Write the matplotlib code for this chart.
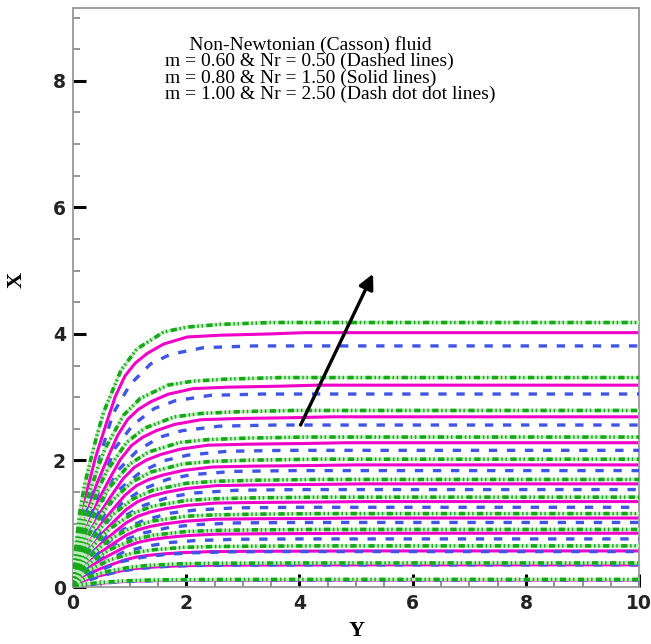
import matplotlib
matplotlib.use('Agg')
import matplotlib.pyplot as plt
import matplotlib.transforms as mtransforms
import numpy as np

# plateau levels of the curves (read at Y = 10), top to bottom
dashed_levels = [3.81, 3.05, 2.56, 2.16, 1.84, 1.54, 1.26, 1.02, 0.76, 0.56, 0.35, 0.11]
solid_levels = [4.02, 3.19, 2.69, 2.28, 1.93, 1.63, 1.35, 1.09, 0.85, 0.57, 0.35, 0.11]
dashdot_levels = [4.18, 3.31, 2.79, 2.37, 2.02, 1.70, 1.42, 1.16, 0.91, 0.65, 0.38, 0.12]
# how far out along Y each group of curves bends over (1 = top group), estimated
group_stretch = [1.0, 1.05, 1.12, 1.18, 1.22, 1.25, 1.25, 1.25, 1.25, 1.22, 1.18, 1.1]

# shape of the curves (fraction of the plateau reached at a given Y)
dashed_y = [0, 0.04, 0.1, 0.2, 0.33, 0.5, 0.71, 1.01, 1.37, 1.72, 2.31, 3.2, 10]
dashed_frac = [0, 0.07, 0.15, 0.27, 0.40, 0.56, 0.72, 0.84, 0.925, 0.965, 0.993, 1.0, 1.0]
solid_y = [0, 0.03, 0.08, 0.15, 0.25, 0.4, 0.6, 0.75, 0.92, 1.1, 1.31, 1.6, 2.02, 2.61, 3.49, 4.1, 10]
solid_frac = [0, 0.08, 0.17, 0.27, 0.38, 0.51, 0.65, 0.75, 0.83, 0.88, 0.918, 0.955, 0.983,
              0.99, 0.995, 1.0, 1.0]
dashdot_y = [0, 0.02, 0.06, 0.12, 0.2, 0.3, 0.42, 0.54, 0.85, 1.13, 1.6, 2.02, 2.61, 3.49, 10]
dashdot_frac = [0, 0.08, 0.17, 0.28, 0.38, 0.47, 0.57, 0.66, 0.82, 0.90, 0.964, 0.983,
                0.993, 1.0, 1.0]

legend_lines = ['     Non-Newtonian (Casson) fluid',
                'm = 0.60 & Nr = 0.50 (Dashed lines)',
                'm = 0.80 & Nr = 1.50 (Solid lines)',
                'm = 1.00 & Nr = 2.50 (Dash dot dot lines)']

arrow_start = (4.02, 2.56)
arrow_end = (5.3, 4.95)

plt.rcParams['lines.scale_dashes'] = False

fig = plt.figure(figsize=(6.51, 6.44), dpi=100)
ax = fig.add_axes([0.112, 0.0885, 0.87, 0.899])

for k in range(len(solid_levels)):
    s = group_stretch[k]
    # solid lines
    ax.plot(np.array(solid_y) * s, np.array(solid_frac) * solid_levels[k],
            color='#f000c8', lw=2.2, solid_joinstyle='round', zorder=2)
    # dashed lines
    ax.plot(np.array(dashed_y) * s, np.array(dashed_frac) * dashed_levels[k],
            color='#3f55e6', lw=2.4, dashes=(6, 7), zorder=3)
    # dash dot dot lines (pale green trace under dark green dashes)
    yy = np.array(dashdot_y) * s
    xx = np.array(dashdot_frac) * dashdot_levels[k]
    ax.plot(yy, xx, color='#b8ecb8', lw=2.4, zorder=3)
    ax.plot(yy, xx, color='#16a816', lw=2.6, dashes=(4.5, 2, 1, 2, 1, 2.5), zorder=4)

ax.annotate('', xy=arrow_end, xytext=arrow_start,
            arrowprops=dict(arrowstyle='-|>,head_length=0.9,head_width=0.45',
                            color='black', lw=2.4, shrinkA=0, shrinkB=0),
            zorder=6)

ax.text(0.163, 0.952, '\n'.join(legend_lines), transform=ax.transAxes,
        ha='left', va='top', fontsize=14, family='Liberation Serif',
        linespacing=0.93, zorder=7)

ax.set_xlim(0, 10)
ax.set_ylim(0, 9.15)
ax.set_xticks([0, 2, 4, 6, 8, 10])
ax.set_yticks([0, 2, 4, 6, 8])
ax.set_xticks(np.arange(0, 10.01, 0.5), minor=True)
ax.set_yticks(np.arange(0, 9.01, 0.5), minor=True)
ax.tick_params(which='major', direction='in', length=9.5, width=2.2, color='black',
               labelsize=13.5, pad=5)
ax.tick_params(which='minor', direction='in', length=5, width=1.1, color='#777777')
for lab in ax.get_xticklabels() + ax.get_yticklabels():
    lab.set_fontweight('bold')
    lab.set_color('#222222')
# keep the "10" inside the picture, as in the reference
last = ax.get_xticklabels()[-1]
last.set_horizontalalignment('right')
last.set_transform(last.get_transform() +
                   mtransforms.ScaledTranslation(9 / 72, 0, fig.dpi_scale_trans))
for sp in ax.spines.values():
    sp.set_color('#999999')
    sp.set_linewidth(1.3)

ax.set_xlabel('Y', family='Liberation Serif', fontweight='bold', fontsize=16, labelpad=6)
ax.set_ylabel('X', family='Liberation Serif', fontweight='bold', fontsize=16)
ax.yaxis.set_label_coords(-0.082, 0.53)

fig.savefig('out.png', dpi=100)
